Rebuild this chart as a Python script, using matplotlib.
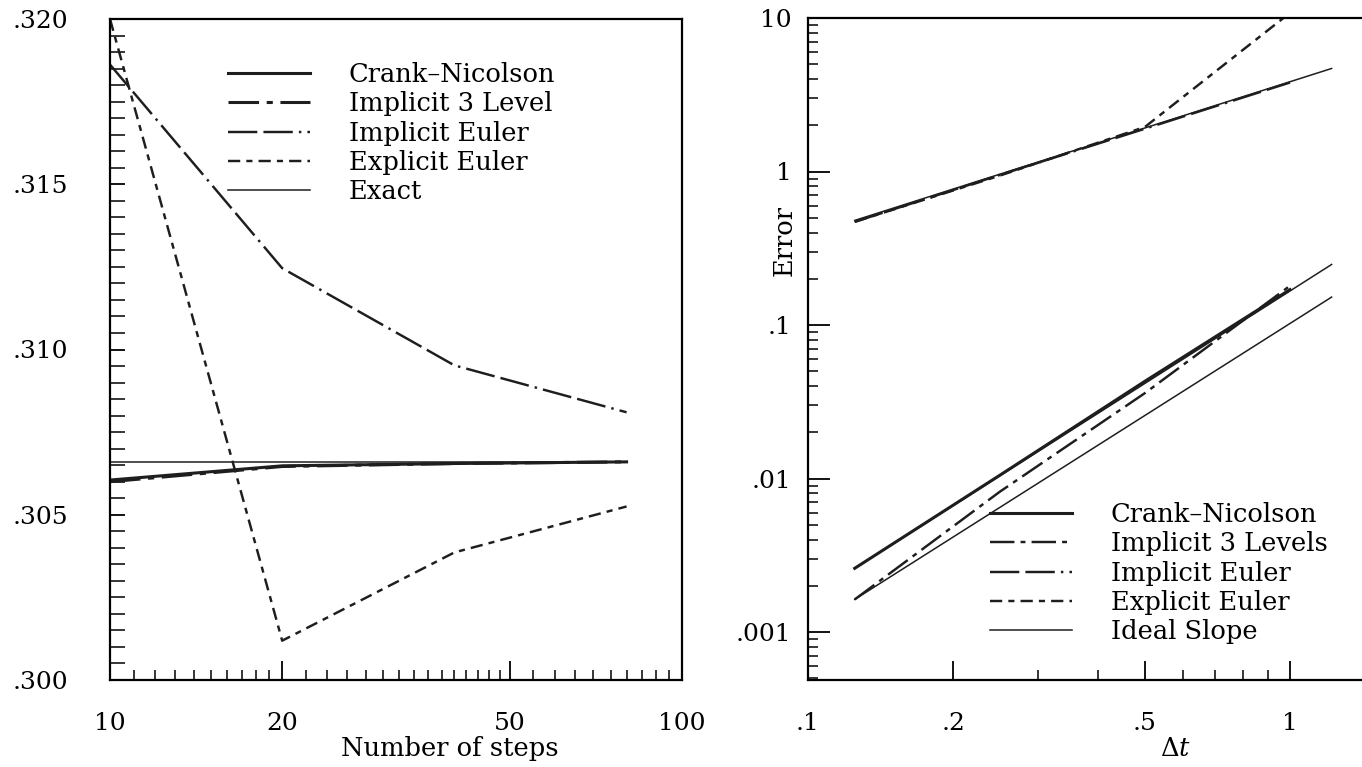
import matplotlib
matplotlib.use("Agg")
import matplotlib.pyplot as plt
from matplotlib.ticker import FixedLocator, FixedFormatter, NullFormatter

plt.rcParams['font.family'] = ['DejaVu Serif']
plt.rcParams['mathtext.fontset'] = 'dejavuserif'
plt.rcParams['axes.linewidth'] = 1.6

# -------------------------
# Data, left panel: value vs number of steps
# -------------------------
steps = [10, 20, 40, 80]
crank_nicolson = [0.30605, 0.30648, 0.30655, 0.30660]
implicit_3level = [0.30600, 0.30646, 0.30655, 0.30660]
implicit_euler = [0.31862, 0.31246, 0.30952, 0.30810]
explicit_euler = [0.32000, 0.30119, 0.30386, 0.30525]
exact = [0.30660, 0.30660, 0.30660, 0.30660]

# -------------------------
# Data, right panel: error vs time step
# -------------------------
dt = [0.125, 0.25, 0.5, 1.0]
err_cn = [0.0026, 0.0105, 0.043, 0.17]
err_i3l = [0.00163, 0.0082, 0.036, 0.18]
err_ie = [0.47, 0.95, 1.9, 3.8]
err_ee = [0.47, 0.94, 1.95, 10.8]
ideal_dt = [0.125, 1.22]
ideal_first = [0.48, 4.69]
ideal_second_cn = [0.0026, 0.248]
ideal_second_i3l = [0.00163, 0.152]

left_labels = ["Crank\u2013Nicolson", "Implicit 3 Level", "Implicit Euler",
               "Explicit Euler", "Exact"]
right_labels = ["Crank\u2013Nicolson", "Implicit 3 Levels", "Implicit Euler",
                "Explicit Euler", "Ideal Slope"]

ink = "#1e1e1e"
thick = 2.2
thin = 1.1
ls_i3l = (0, (10, 2.5, 2, 2.5))
ls_ie = (0, (12, 2.5, 12, 2.5, 1, 2.5))
ls_ee = (0, (5, 2.5, 2.5, 2.5))

fs_tick = 18
fs_text = 18.5

fig = plt.figure(figsize=(13.62, 7.67), dpi=100)
W, H = 1362.0, 767.0

# -------------------------
# Left panel
# -------------------------
ax1 = fig.add_axes([110 / W, 1 - 680 / H, 572 / W, 661 / H])
ax1.set_xscale("log")
ax1.set_xlim(10, 100)
ax1.set_ylim(0.300, 0.320)

ax1.plot(steps, crank_nicolson, color=ink, lw=thick, label=left_labels[0])
ax1.plot(steps, implicit_3level, color=ink, lw=thick, ls=ls_i3l, label=left_labels[1])
ax1.plot(steps, implicit_euler, color=ink, lw=thick * 0.8, ls=ls_ie, label=left_labels[2])
ax1.plot(steps, explicit_euler, color=ink, lw=thick * 0.8, ls=ls_ee, label=left_labels[3])
ax1.plot(steps, exact, color=ink, lw=thin, label=left_labels[4])

ax1.xaxis.set_major_locator(FixedLocator([10, 20, 50, 100]))
ax1.xaxis.set_major_formatter(FixedFormatter(["10", "20", "50", "100"]))
minor_x = list(range(11, 20)) + list(range(22, 50, 2)) + list(range(55, 100, 5))
ax1.xaxis.set_minor_locator(FixedLocator(minor_x))
ax1.xaxis.set_minor_formatter(NullFormatter())
ax1.tick_params(axis="x", which="major", direction="in", length=14, width=1.3,
                pad=23, labelsize=fs_tick, top=False)
ax1.tick_params(axis="x", which="minor", direction="in", length=7, width=1.1, top=False)

yt = [0.300, 0.305, 0.310, 0.315, 0.320]
ax1.yaxis.set_major_locator(FixedLocator(yt))
ax1.yaxis.set_major_formatter(FixedFormatter([".300", ".305", ".310", ".315", ".320"]))
ax1.yaxis.set_minor_locator(FixedLocator([0.300 + 0.0005 * i for i in range(41)]))
ax1.tick_params(axis="y", which="major", direction="in", length=11, width=1.3,
                pad=30, labelsize=fs_tick, right=False)
ax1.tick_params(axis="y", which="minor", direction="in", length=11, width=1.1, right=False)

ax1.set_xlabel("Number of steps", fontsize=fs_text)
ax1.xaxis.set_label_coords(340 / 572, -56 / 661)

ax1.legend(loc="upper left", bbox_to_anchor=(228 / W, 1 - 62 / H),
           bbox_transform=fig.transFigure, frameon=False, fontsize=fs_text,
           handlelength=3.2, handletextpad=1.5, labelspacing=0.17,
           borderpad=0, borderaxespad=0)

# -------------------------
# Right panel
# -------------------------
ax2 = fig.add_axes([808 / W, 1 - 680 / H, 554 / W, 662 / H])
ax2.set_xscale("log")
ax2.set_yscale("log")
ax2.set_xlim(0.1, 10 ** ((1362 - 808) / 482 - 1))
ax2.set_ylim(10 ** (-3 - 48 / 153.5), 10)
ax2.spines["right"].set_visible(False)

ax2.plot(dt, err_cn, color=ink, lw=thick, label=right_labels[0])
ax2.plot(dt, err_i3l, color=ink, lw=thick * 0.8, ls=ls_i3l, label=right_labels[1])
ax2.plot(dt, err_ie, color=ink, lw=thick * 0.8, ls=ls_ie, label=right_labels[2])
ax2.plot(dt, err_ee, color=ink, lw=thick * 0.8, ls=ls_ee, label=right_labels[3])
ax2.plot(ideal_dt, ideal_first, color=ink, lw=thin, label=right_labels[4])
ax2.plot(ideal_dt, ideal_second_cn, color=ink, lw=thin)
ax2.plot(ideal_dt, ideal_second_i3l, color=ink, lw=thin)

ax2.xaxis.set_major_locator(FixedLocator([0.1, 0.2, 0.5, 1.0]))
ax2.xaxis.set_major_formatter(FixedFormatter([".1", ".2", ".5", "1"]))
ax2.xaxis.set_minor_locator(FixedLocator([0.3, 0.4, 0.6, 0.7, 0.8, 0.9]))
ax2.xaxis.set_minor_formatter(NullFormatter())
ax2.tick_params(axis="x", which="major", direction="in", length=14, width=1.3,
                pad=23, labelsize=fs_tick, top=False)
ax2.tick_params(axis="x", which="minor", direction="in", length=7, width=1.1, top=False)

ax2.yaxis.set_major_locator(FixedLocator([0.001, 0.01, 0.1, 1, 10]))
ax2.yaxis.set_major_formatter(FixedFormatter([".001", ".01", ".1", "1", "10"]))
minor_y = [m * 10.0 ** e for e in range(-4, 1) for m in range(2, 10)]
ax2.yaxis.set_minor_locator(FixedLocator(minor_y))
ax2.yaxis.set_minor_formatter(NullFormatter())
ax2.tick_params(axis="y", which="major", direction="in", length=16, width=1.3,
                pad=12, labelsize=fs_tick, right=False)
ax2.tick_params(axis="y", which="minor", direction="in", length=7, width=1.1, right=False)

ax2.set_xlabel("$\\Delta t$", fontsize=fs_text)
ax2.xaxis.set_label_coords((1175 - 808) / 554, -56 / 662)
ax2.set_ylabel("Error", fontsize=fs_text)
ax2.yaxis.set_label_coords((797 - 808) / 554, (680 - 240) / 662)

ax2.legend(loc="upper left", bbox_to_anchor=(990 / W, 1 - 502 / H),
           bbox_transform=fig.transFigure, frameon=False, fontsize=fs_text,
           handlelength=3.2, handletextpad=1.5, labelspacing=0.17,
           borderpad=0, borderaxespad=0)

fig.savefig("out.png", dpi=100)
